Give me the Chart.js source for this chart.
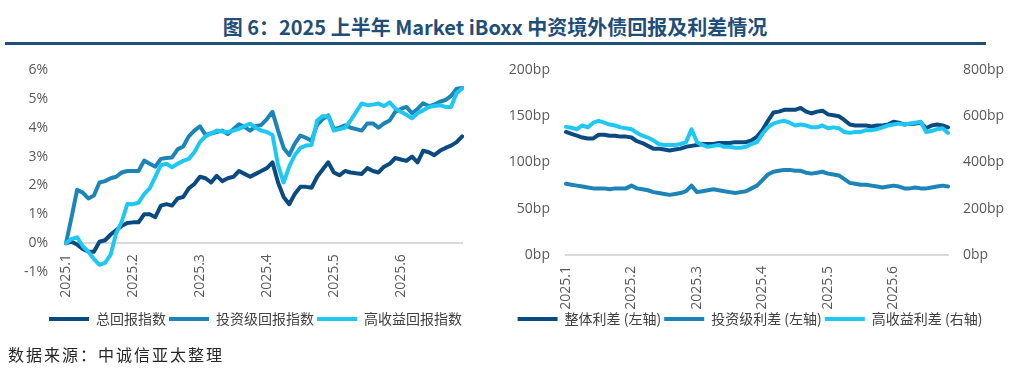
<!DOCTYPE html>
<html>
<head>
<meta charset="utf-8">
<script src="https://cdn.jsdelivr.net/npm/chart.js@4.4.1/dist/chart.umd.min.js"></script>
<style>
  html, body { margin: 0; padding: 0; background: #ffffff; }
  body { width: 1012px; height: 375px; position: relative; overflow: hidden; font-family: "Noto Sans CJK SC", "Noto Sans", sans-serif; }
  #title { position: absolute; left: 0; top: 14px; width: 990px; text-align: center; font-size: 20px; font-weight: bold; color: #1f4e79; line-height: 26px; }
  #rule { position: absolute; left: 5px; top: 42px; width: 981px; height: 3px; background: #1f4e79; }
  #src { position: absolute; left: 8px; top: 342px; font-size: 16px; color: #262626; letter-spacing: 2px; line-height: 24px; }
  #c1 { position: absolute; left: 0; top: 50px; }
  #c2 { position: absolute; left: 494px; top: 50px; }
</style>
</head>
<body>
<div id="title">图 6：2025 上半年 Market iBoxx 中资境外债回报及利差情况</div>
<div id="rule"></div>
<canvas id="c1" width="490" height="300"></canvas>
<canvas id="c2" width="512" height="300"></canvas>
<div id="src">数据来源：中诚信亚太整理</div>
<script>
// ---- tick labels (month starts) ----
const tickLabels = ['2025.1', '2025.2', '2025.3', '2025.4', '2025.5', '2025.6'];
const pointsPerMonth = 12;

// ---- left panel: return indices (%) ----
const returnNames = ['总回报指数', '投资级回报指数', '高收益回报指数'];
const totalReturn = [
  0, 0.05, -0.05, -0.2, -0.3, -0.3, 0.05, 0.1, 0.3, 0.45,
  0.6, 0.7, 0.72, 0.72, 1.0, 1.0, 0.9, 1.3, 1.35, 1.3,
  1.55, 1.6, 1.9, 2.05, 2.3, 2.25, 2.1, 2.33, 2.15, 2.25,
  2.3, 2.5, 2.4, 2.3, 2.4, 2.5, 2.6, 2.8, 2.1, 1.6,
  1.35, 1.7, 1.95, 1.95, 1.92, 2.3, 2.55, 2.8, 2.45, 2.35,
  2.5, 2.45, 2.42, 2.4, 2.6, 2.5, 2.45, 2.65, 2.75, 2.95,
  2.9, 2.85, 3.0, 2.8, 3.2, 3.15, 3.05, 3.2, 3.3, 3.38, 3.5, 3.7
];
const igReturn = [
  0, 0.9, 1.85, 1.75, 1.55, 1.65, 2.1, 2.15, 2.25, 2.3,
  2.45, 2.5, 2.5, 2.5, 2.86, 2.75, 2.65, 2.92, 2.95, 2.97,
  3.25, 3.35, 3.7, 3.9, 4.05, 3.75, 3.8, 3.85, 3.9, 3.78,
  3.95, 4.12, 4.02, 3.9, 4.05, 4.1, 4.3, 4.55, 3.9, 3.3,
  3.05, 3.45, 3.73, 3.65, 3.55, 4.1, 4.3, 4.43, 3.95, 4.0,
  4.08, 4.0, 3.95, 3.9, 4.15, 4.15, 4.0, 4.15, 4.25, 4.55,
  4.65, 4.72, 4.5, 4.65, 4.85, 4.75, 4.8, 4.9, 4.96, 5.1, 5.35, 5.38
];
const hyReturn = [
  0, 0.15, 0.2, -0.1, -0.3, -0.55, -0.75, -0.68, -0.4, 0.35,
  0.75, 1.36, 1.35, 1.4, 1.7, 1.9, 2.3, 2.7, 2.75, 2.63,
  2.75, 2.85, 2.92, 3.15, 3.5, 3.7, 3.8, 3.9, 3.87, 3.85,
  3.9, 3.96, 4.05, 4.14, 4.0, 3.9, 3.85, 3.75, 2.7, 2.1,
  2.65, 3.05, 3.3, 3.38, 3.4, 4.25, 4.4, 4.4, 3.9, 3.95,
  4.0, 4.25, 4.55, 4.84, 4.78, 4.8, 4.84, 4.75, 4.88, 4.67,
  4.55, 4.45, 4.33, 4.5, 4.6, 4.72, 4.75, 4.78, 4.72, 4.72, 5.2, 5.36
];

// ---- right panel: spreads (bp) ----
const spreadNames = ['整体利差 (左轴)', '投资级利差 (左轴)', '高收益利差 (右轴)'];
const overallSpread = [
  133, 131, 129, 127, 126, 126, 130, 130, 129, 129,
  128, 128, 127, 123, 121, 118, 115, 115, 114, 113,
  114, 115, 117, 118, 119, 120, 120, 120, 121, 121,
  121, 122, 122, 122, 124, 128, 135, 145, 154, 155,
  157, 157, 157, 159, 155, 153, 155, 156, 152, 151,
  150, 146, 141, 140, 140, 140, 139, 140, 140, 141,
  144, 143, 141, 142, 142, 143, 137, 140, 141, 140, 138
];
const igSpread = [
  77, 76, 75, 74, 73, 72, 72, 72, 71, 72,
  72, 72, 75, 72, 71, 70, 68, 67, 66, 65,
  66, 67, 69, 75, 68, 69, 70, 71, 70, 69,
  68, 67, 68, 69, 72, 75, 81, 87, 90, 91,
  92, 92, 91, 91, 89, 88, 89, 90, 88, 87,
  86, 82, 78, 77, 76, 76, 75, 74, 73, 74,
  75, 74, 72, 72, 73, 72, 72, 73, 74, 75, 74
];
const hySpread = [
  554, 550, 544, 560, 552, 572, 580, 572, 564, 560,
  552, 548, 544, 528, 516, 508, 496, 480, 476, 476,
  476, 480, 488, 544, 488, 476, 468, 472, 476, 468,
  468, 464, 464, 468, 480, 488, 524, 552, 568, 576,
  580, 572, 560, 564, 560, 552, 552, 560, 548, 552,
  548, 532, 528, 532, 532, 540, 540, 544, 552, 560,
  564, 568, 564, 568, 572, 576, 532, 536, 544, 548, 528
];

// ---- colours ----
const colors = ['#0b4a80', '#1c84b6', '#1ec8f2'];

function categoriesFor(n) {
  const out = [];
  for (let i = 0; i < n; i++) out.push(i % pointsPerMonth === 0 ? (tickLabels[i / pointsPerMonth] || '') : '');
  return out;
}

const tickFont = { family: '"Open Sans", "Noto Sans", sans-serif', size: 14 };
const tickColor = '#595959';

function legendOpts(align) {
  return {
    position: 'bottom',
    align: align,
    labels: {
      usePointStyle: true,
      pointStyle: 'line',
      pointStyleWidth: 40,
      padding: 3,
      color: '#404040',
      font: { family: '"Noto Sans CJK SC", sans-serif', size: 14 },
      sort: (a, b) => a.datasetIndex - b.datasetIndex
    }
  };
}

function ds(label, data, color, order, axis) {
  const d = {
    label, data,
    borderColor: color, backgroundColor: color,
    borderWidth: 4, pointRadius: 0, tension: 0,
    borderCapStyle: 'round', borderJoinStyle: 'round',
    order
  };
  if (axis) d.yAxisID = axis;
  return d;
}

// fixed-size vertical axis, no extra label padding above/below the plot
function fixVertical(w) {
  return (s) => { s.width = w; s.paddingTop = 0; s.paddingBottom = 0; };
}

Chart.defaults.animation = false;

// left chart
new Chart(document.getElementById('c1'), {
  type: 'line',
  data: {
    labels: categoriesFor(totalReturn.length),
    datasets: [
      ds(returnNames[0], totalReturn, colors[0], 3),
      ds(returnNames[1], igReturn, colors[1], 2),
      ds(returnNames[2], hyReturn, colors[2], 1)
    ]
  },
  options: {
    responsive: false,
    devicePixelRatio: 1,
    layout: { padding: { top: 20, left: 0, right: 25, bottom: 14 } },
    plugins: { legend: legendOpts('end'), tooltip: { enabled: false } },
    scales: {
      x: {
        type: 'category',
        position: { y: 0 },
        grid: { display: false, drawTicks: false },
        border: { display: true, color: '#d9d9d9', width: 2 },
        ticks: { autoSkip: false, minRotation: 90, maxRotation: 90, padding: 11, color: tickColor, font: tickFont },
        afterFit: (s) => { s.height = 0; }
      },
      // spacer axis: reserves room below the plot for the rotated month labels
      xSpace: {
        type: 'linear',
        position: 'bottom',
        display: true,
        grid: { display: false, drawTicks: false },
        border: { display: false },
        ticks: { display: false },
        afterFit: (s) => { s.height = 37; }
      },
      y: {
        min: -1, max: 6,
        grid: { display: false, drawTicks: false },
        border: { display: false },
        ticks: { stepSize: 1, padding: 18, color: tickColor, font: tickFont, callback: (v) => v + '%' },
        afterFit: fixVertical(66)
      }
    }
  }
});

// right chart
new Chart(document.getElementById('c2'), {
  type: 'line',
  data: {
    labels: categoriesFor(overallSpread.length),
    datasets: [
      ds(spreadNames[0], overallSpread, colors[0], 3, 'y'),
      ds(spreadNames[1], igSpread, colors[1], 2, 'y'),
      ds(spreadNames[2], hySpread, colors[2], 1, 'y2')
    ]
  },
  options: {
    responsive: false,
    devicePixelRatio: 1,
    layout: { padding: { top: 20, left: 0, right: 0, bottom: 14 } },
    plugins: { legend: legendOpts('center'), tooltip: { enabled: false } },
    scales: {
      x: {
        type: 'category',
        position: 'bottom',
        grid: { display: false, drawTicks: false },
        border: { display: true, color: '#d9d9d9', width: 2 },
        ticks: { autoSkip: false, minRotation: 90, maxRotation: 90, padding: 11, color: tickColor, font: tickFont },
        afterFit: (s) => { s.height = 54; }
      },
      y: {
        position: 'left',
        min: 0, max: 200,
        grid: { display: false, drawTicks: false },
        border: { display: false },
        ticks: { stepSize: 50, padding: 16, color: tickColor, font: tickFont, callback: (v) => v + 'bp' },
        afterFit: fixVertical(72)
      },
      y2: {
        position: 'right',
        min: 0, max: 800,
        grid: { display: false, drawTicks: false },
        border: { display: false },
        ticks: { stepSize: 200, padding: 15, color: tickColor, font: tickFont, callback: (v) => v + 'bp' },
        afterFit: fixVertical(58)
      }
    }
  }
});
</script>
</body>
</html>
